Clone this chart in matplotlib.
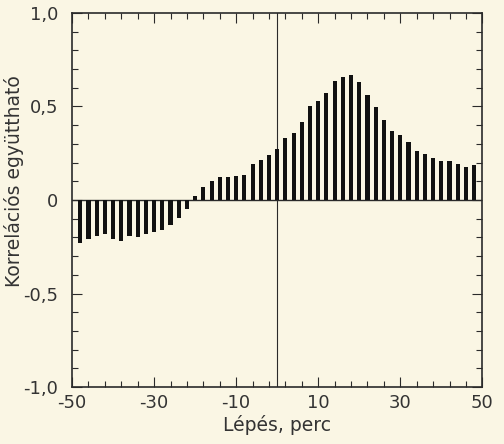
#!/usr/bin/env python3

import numpy as np
import matplotlib
matplotlib.use('Agg')
import matplotlib.pyplot as plt
from matplotlib.ticker import FixedLocator

# lag in minutes, every 2 minutes
lags = np.arange(-48, 49, 2)
corr = [-0.23, -0.21, -0.19, -0.18, -0.21, -0.22, -0.19, -0.20, -0.18, -0.17,
        -0.16, -0.135, -0.095, -0.05, 0.02, 0.07, 0.10, 0.125, 0.125, 0.13,
        0.135, 0.19, 0.215, 0.24, 0.275, 0.33, 0.36, 0.415, 0.50, 0.53,
        0.57, 0.635, 0.655, 0.67, 0.63, 0.56, 0.495, 0.43, 0.37, 0.345,
        0.31, 0.26, 0.245, 0.225, 0.21, 0.21, 0.195, 0.175, 0.185]

xticks = [-50, -30, -10, 10, 30, 50]
yticks = [-1.0, -0.5, 0.0, 0.5, 1.0]
ylabels = ['-1,0', '-0,5', '0', '0,5', '1,0']

PAPER = '#faf6e4'
INK = '#2a2a2a'
TEXT = '#333333'

def main():
    fig = plt.figure(figsize=(5.04, 4.44), dpi=100, facecolor=PAPER)
    ax = fig.add_axes([0.143, 0.128, 0.814, 0.843])
    ax.set_facecolor(PAPER)

    ax.bar(lags, corr, width=1.0, color='#111111', zorder=3)
    ax.axhline(0, color=INK, lw=1.0, zorder=2)
    ax.axvline(0, color=INK, lw=0.8, zorder=2)

    ax.set_xlim(-50, 50)
    ax.set_ylim(-1.0, 1.0)

    ax.set_xticks(xticks)
    ax.set_xticklabels([str(t) for t in xticks])
    ax.set_yticks(yticks)
    ax.set_yticklabels(ylabels)
    ax.xaxis.set_minor_locator(FixedLocator(np.arange(-46, 47, 4)))
    ax.yaxis.set_minor_locator(FixedLocator(np.arange(-0.9, 0.95, 0.1)))

    ax.tick_params(which='both', direction='in', top=True, right=True,
                   color=INK, width=0.8)
    ax.tick_params(which='major', length=7, labelsize=13, labelcolor=TEXT, pad=5)
    ax.tick_params(which='minor', length=4)
    ax.tick_params(axis='y', which='major', pad=10)
    for side in ['left', 'right', 'top', 'bottom']:
        ax.spines[side].set_color(INK)
        ax.spines[side].set_linewidth(1.2)

    ax.set_xlabel('Lépés, perc', fontsize=13.5, color=TEXT, labelpad=2)
    ax.set_ylabel('Korrelációs együttható', fontsize=13.5, color=TEXT)
    ax.yaxis.set_label_coords(-0.118, 0.55)

    plt.savefig('out.png', dpi=100, facecolor=PAPER)

if __name__ == "__main__":
    main()
